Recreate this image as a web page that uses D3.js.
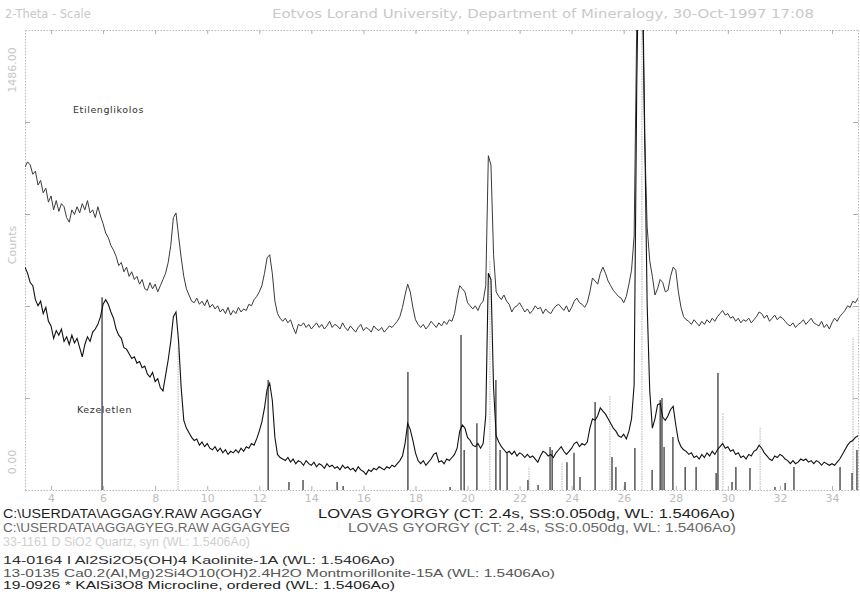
<!DOCTYPE html>
<html>
<head>
<meta charset="utf-8">
<script src="https://cdn.jsdelivr.net/npm/d3@7/dist/d3.min.js"></script>
<style>
  body { margin: 0; background: #fff; }
  text { font-family: "DejaVu Sans", sans-serif; }
</style>
</head>
<body>
<script>
// scan: 2-theta from 3 to 35 deg, every 0.1 deg
const startAngle = 3.0;
const stepSize = 0.1;

// treated with ethylene glycol (upper trace)
const countsEtilenglikolos = [
    1043,1060,1050,1020,1030,985,1000,960,975,930,
    950,905,935,900,925,915,880,865,905,890,
    915,895,925,905,935,895,905,880,915,885,
    860,830,815,790,775,755,725,735,705,720,
    690,705,680,690,665,680,650,645,670,650,
    665,640,660,680,700,735,790,880,895,820,
    750,690,650,630,610,605,620,600,610,595,
    615,590,600,585,595,575,585,570,590,565,
    580,570,590,575,585,580,600,595,615,625,
    640,660,700,750,760,700,610,570,555,545,
    555,540,550,525,505,535,530,540,525,535,
    520,530,540,525,535,520,530,545,525,535,
    530,520,540,525,515,530,520,510,525,535,
    515,525,520,510,530,520,515,525,510,520,
    530,525,535,545,560,590,630,665,640,590,
    550,535,525,535,520,530,545,535,525,540,
    530,545,535,550,545,570,620,660,650,640,
    605,595,585,595,580,600,610,660,1080,1050,
    760,640,625,615,630,610,600,575,590,595,
    605,590,575,585,570,580,595,585,590,570,
    585,575,570,585,595,600,590,580,595,575,
    590,610,620,605,600,590,605,640,685,675,
    665,700,720,700,675,660,645,635,625,620,
    605,625,665,710,820,1500,1950,1750,1150,850,
    740,690,630,650,680,670,640,645,690,720,
    710,640,590,560,550,545,535,550,540,530,
    545,535,550,540,555,545,560,570,580,565,
    570,555,560,545,555,540,550,545,555,540,
    550,560,575,570,555,565,545,555,565,550,
    560,555,545,535,530,540,525,535,540,550,
    535,545,555,540,535,530,545,525,535,520,
    540,555,545,560,570,580,595,590,610,605,
    620
];

// untreated sample (lower trace)
const countsKezeletlen = [
    720,700,670,660,615,595,610,570,590,545,
    530,490,515,500,520,480,495,470,500,475,
    490,460,430,470,495,480,510,520,535,560,
    600,615,600,575,555,520,500,490,460,455,
    440,425,430,410,415,395,400,375,365,380,
    350,360,330,320,370,420,480,560,575,480,
    330,225,200,185,170,160,165,145,155,140,
    150,135,130,140,125,135,120,130,115,125,
    120,130,120,135,125,140,135,150,145,165,
    190,220,265,325,345,290,170,115,105,100,
    95,105,90,100,85,95,90,80,95,85,
    80,90,75,85,80,70,85,75,80,70,
    75,65,80,70,75,65,70,60,75,65,
    60,50,65,60,70,65,75,70,65,75,
    70,80,75,85,95,110,150,215,195,160,
    120,95,85,95,80,90,100,115,120,90,
    95,85,100,95,105,115,135,190,210,200,
    170,160,145,140,150,135,150,240,700,680,
    330,175,155,140,130,120,125,115,125,110,
    120,115,105,115,105,110,100,90,110,125,
    120,110,115,105,120,130,140,125,115,125,
    135,150,155,140,150,145,155,200,230,225,
    240,265,255,245,230,215,200,190,175,170,
    180,165,190,230,340,1300,1900,1800,1200,600,
    320,200,230,275,280,235,225,240,260,270,
    210,160,140,130,125,115,120,105,110,100,
    115,105,120,110,125,115,130,140,150,135,
    140,125,130,115,120,105,110,100,115,110,
    125,130,145,135,120,110,100,95,110,105,
    115,110,100,95,85,95,85,90,100,95,
    100,90,95,85,95,90,80,90,85,80,
    85,80,90,100,115,130,145,155,160,170,
    175
];

// reference pattern lines [2theta, counts]
const patternSticks = [
    [5.96,623],[12.34,355],[13.14,26],[13.68,32],[14.99,26],[15.22,13],
    [17.71,381],[19.33,10],[19.75,501],[19.87,129],[20.36,216],[21.09,355],
    [21.25,129],[21.52,120],[22.32,32],[22.71,16],[23.17,139],[23.25,129],
    [23.82,90],[24.09,120],[24.32,42],[24.90,284],[25.55,107],[25.70,74],
    [26.05,26],[26.43,136],[27.09,65],[27.40,291],[27.47,297],[27.55,139],
    [27.89,171],[28.36,74],[28.78,74],[29.55,55],[29.62,378],[30.16,26],
    [30.31,74],[30.85,71],[31.81,10],[32.20,23],[32.54,74],[34.31,74],
    [34.77,55],[34.96,129]
];
// quartz lines, printed very light
const quartzSticks = [
    [8.88,462],[20.86,743],[22.36,74],[23.63,90],[25.47,307],
    [26.70,1486],[29.81,249],[31.24,204],[34.81,494]
];

const xTicks = [4,6,8,10,12,14,16,18,20,22,24,26,28,30,32,34];
const yTicks = [0, 297.2, 594.4, 891.6, 1188.8, 1486];

const headerLeft = '2-Theta - Scale';
const headerRight = 'Eotvos Lorand University, Department of Mineralogy, 30-Oct-1997 17:08';

const legendRows = [
    ['C:\\USERDATA\\AGGAGY.RAW AGGAGY', 'LOVAS GYORGY (CT:  2.4s, SS:0.050dg, WL: 1.5406Ao)'],
    ['C:\\USERDATA\\AGGAGYEG.RAW AGGAGYEG', 'LOVAS GYORGY (CT:  2.4s, SS:0.050dg, WL: 1.5406Ao)'],
    ['33-1161 D SiO2 Quartz, syn (WL: 1.5406Ao)'],
    ['14-0164 I Al2Si2O5(OH)4 Kaolinite-1A (WL: 1.5406Ao)'],
    ['13-0135   Ca0.2(Al,Mg)2Si4O10(OH)2.4H2O Montmorillonite-15A (WL: 1.5406Ao)'],
    ['19-0926 * KAlSi3O8 Microcline, ordered (WL: 1.5406Ao)']
];

const width = 860;
const height = 592;
const margin = { top: 30, right: 2, bottom: 102, left: 25 };

const svg = d3.select('body').append('svg')
    .attr('width', width)
    .attr('height', height);

const x = d3.scaleLinear().domain([3, 35]).range([margin.left, width - margin.right]);
const y = d3.scaleLinear().domain([0, 1486]).range([height - margin.bottom, margin.top]);

svg.append('clipPath').attr('id', 'plotclip')
    .append('rect')
    .attr('x', margin.left).attr('y', margin.top)
    .attr('width', width - margin.left - margin.right)
    .attr('height', height - margin.top - margin.bottom);

// frame & ticks (dotted, faint like the print)
function styleAxis(g) {
    g.select('.domain').attr('stroke', '#b8b8b8').attr('stroke-dasharray', '1.5,1.5');
    g.selectAll('.tick line').attr('stroke', '#b0b0b0');
    g.selectAll('.tick text').attr('fill', '#bdbdbd').style('font-size', '11px')
        .style('font-family', '"DejaVu Sans", sans-serif');
}

svg.append('g')
    .attr('transform', `translate(0,${height - margin.bottom})`)
    .call(d3.axisBottom(x).tickValues(xTicks).tickSize(-4).tickPadding(4).tickSizeOuter(0))
    .call(styleAxis);

svg.append('g')
    .attr('transform', `translate(0,${margin.top})`)
    .call(d3.axisTop(x).tickValues(xTicks).tickSize(-4).tickFormat('').tickSizeOuter(0))
    .call(styleAxis);

svg.append('g')
    .attr('transform', `translate(${margin.left},0)`)
    .call(d3.axisLeft(y).tickValues(yTicks.slice(1, -1)).tickSize(-5).tickFormat('').tickSizeOuter(0))
    .call(styleAxis);

svg.append('g')
    .attr('transform', `translate(${width - margin.right},0)`)
    .call(d3.axisRight(y).tickValues(yTicks.slice(1, -1)).tickSize(-5).tickFormat('').tickSizeOuter(0))
    .call(styleAxis);

// y labels, rotated
const yLab = svg.append('g').attr('fill', '#c6c6c6').style('font-size', '11px');
yLab.append('text')
    .attr('transform', `translate(16,${y(1486) + 40}) rotate(-90)`)
    .attr('text-anchor', 'middle')
    .text(d3.format('.2f')(yTicks[yTicks.length - 1]));
yLab.append('text')
    .attr('transform', `translate(16,${(y(0) + y(1486)) / 2 - 15}) rotate(-90)`)
    .attr('text-anchor', 'middle')
    .text('Counts');
yLab.append('text')
    .attr('transform', `translate(16,${y(0) - 28}) rotate(-90)`)
    .attr('text-anchor', 'middle')
    .text(d3.format('.2f')(yTicks[0]));

// header
svg.append('text').attr('x', 5).attr('y', 18)
    .attr('fill', '#c9c9c9').style('font-size', '11.5px')
    .text(headerLeft);
svg.append('text').attr('x', 272).attr('y', 18)
    .attr('fill', '#c9c9c9').style('font-size', '11.5px')
    .attr('textLength', 542).attr('lengthAdjust', 'spacingAndGlyphs')
    .text(headerRight);

const plot = svg.append('g').attr('clip-path', 'url(#plotclip)');

// pattern sticks
plot.selectAll('.qstick').data(quartzSticks).enter().append('line')
    .attr('class', 'qstick')
    .attr('x1', d => x(d[0])).attr('x2', d => x(d[0]))
    .attr('y1', y(0)).attr('y2', d => y(d[1]))
    .attr('stroke', '#b4b4b4').attr('stroke-width', 1)
    .attr('stroke-dasharray', '1.5,1');

plot.selectAll('.pstick').data(patternSticks).enter().append('line')
    .attr('class', 'pstick')
    .attr('x1', d => x(d[0])).attr('x2', d => x(d[0]))
    .attr('y1', y(0)).attr('y2', d => y(d[1]))
    .attr('stroke', '#2a2a2a').attr('stroke-width', 1.2);

// scan traces
const line = d3.line()
    .x((d, i) => x(startAngle + i * stepSize))
    .y(d => y(d));

plot.append('path').datum(countsEtilenglikolos)
    .attr('d', line)
    .attr('fill', 'none').attr('stroke', '#3a3a3a').attr('stroke-width', 1);

plot.append('path').datum(countsKezeletlen)
    .attr('d', line)
    .attr('fill', 'none').attr('stroke', '#111').attr('stroke-width', 1.1);

// trace names
svg.append('text').attr('x', 73).attr('y', 113)
    .attr('fill', '#333').style('font-size', '9.5px').attr('letter-spacing', 0.6)
    .text('Etilenglikolos');
svg.append('text').attr('x', 77).attr('y', 413)
    .attr('fill', '#333').style('font-size', '9.5px').attr('letter-spacing', 0.6)
    .text('Kezeletlen');

// legend block under the plot
const legendStyle = [
    { y: 518, size: 12.5, fill: '#1e1e1e', w: [259, 417], x2: 318 },
    { y: 532, size: 12.5, fill: '#6a6a6a', w: [287, 388], x2: 348 },
    { y: 546, size: 12.5, fill: '#d0d0d0', w: [247] },
    { y: 564, size: 11, fill: '#2e2e2e', w: [392] },
    { y: 576.5, size: 11, fill: '#555', w: [552] },
    { y: 589, size: 11, fill: '#222', w: [392] }
];

legendRows.forEach((row, i) => {
    const s = legendStyle[i];
    row.forEach((txt, j) => {
        svg.append('text')
            .attr('x', j === 0 ? 3 : s.x2)
            .attr('y', s.y)
            .attr('fill', s.fill)
            .style('font-family', '"Liberation Sans", sans-serif')
            .style('font-size', s.size + 'px')
            .attr('textLength', s.w[j])
            .attr('lengthAdjust', 'spacingAndGlyphs')
            .text(txt);
    });
});
</script>
</body>
</html>
